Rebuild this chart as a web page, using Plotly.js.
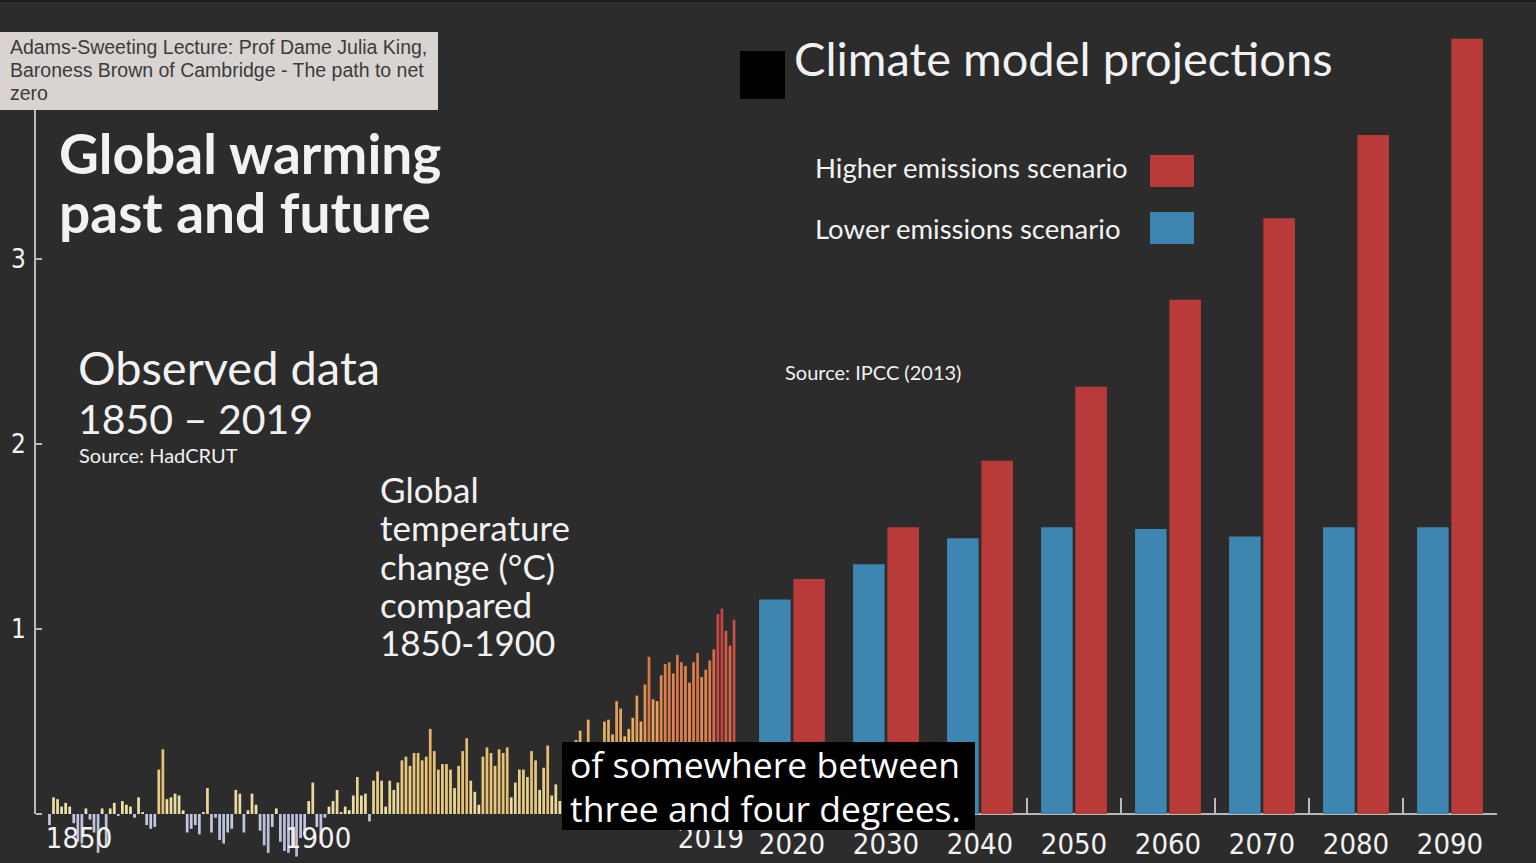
<!DOCTYPE html>
<html>
<head>
<meta charset="utf-8">
<script src="https://cdn.plot.ly/plotly-3.0.1.min.js"></script>
<style>
html,body{margin:0;padding:0;background:#2c2c2c;}
#chart{width:1536px;height:863px;}
</style>
</head>
<body>
<div id="chart"></div>
<script>
// ---------------- DATA ----------------
const firstObservedYear = 1850;
// Global temperature change (°C) compared with 1850-1900, HadCRUT, 1850-2019
const observedAnomaly = [
 -0.06, 0.09, 0.08, 0.04, 0.06, 0.04,-0.05,-0.15,-0.16, 0.03,
 -0.03,-0.10,-0.21, 0.03,-0.18, 0.03, 0.06,-0.01, 0.07, 0.05,
  0.04,-0.02, 0.09, 0.01,-0.06,-0.08,-0.07, 0.24, 0.35, 0.08,
  0.09, 0.11, 0.10, 0.02,-0.10,-0.08,-0.06,-0.11, 0.01, 0.14,
 -0.10,-0.02,-0.14,-0.16,-0.10,-0.08, 0.13, 0.11,-0.10, 0.02,
  0.11, 0.05,-0.09,-0.17,-0.21,-0.07, 0.03,-0.15,-0.20,-0.21,
 -0.18,-0.23,-0.13,-0.11, 0.07, 0.17,-0.07,-0.16,-0.02, 0.04,
  0.07, 0.13, 0.01, 0.04, 0.02, 0.10, 0.20, 0.10, 0.11,-0.04,
  0.18, 0.23, 0.18, 0.04, 0.18, 0.13, 0.17, 0.29, 0.31, 0.26,
  0.33, 0.33, 0.29, 0.31, 0.46, 0.34, 0.24, 0.27, 0.27, 0.24,
  0.14, 0.26, 0.34, 0.41, 0.18, 0.12, 0.05, 0.31, 0.36, 0.33,
  0.26, 0.35, 0.33, 0.36, 0.09, 0.17, 0.24, 0.24, 0.20, 0.34,
  0.29, 0.13, 0.25, 0.37, 0.10, 0.16, 0.07, 0.36, 0.25, 0.37,
  0.40, 0.45, 0.32, 0.51, 0.30, 0.28, 0.36, 0.50, 0.51, 0.43,
  0.61, 0.57, 0.42, 0.46, 0.52, 0.64, 0.50, 0.70, 0.85, 0.62,
  0.61, 0.75, 0.81, 0.82, 0.76, 0.86, 0.82, 0.80, 0.71, 0.82,
  0.87, 0.74, 0.78, 0.83, 0.89, 1.08, 1.11, 0.99, 0.91, 1.05
];
const observedYears = observedAnomaly.map((v, i) => firstObservedYear + i);
const observedTickLabels = ['1850', '1900', '2019'];

const projectionDecades = ['2020', '2030', '2040', '2050', '2060', '2070', '2080', '2090'];
const lowerEmissions  = [1.16, 1.35, 1.49, 1.55, 1.54, 1.50, 1.55, 1.55];
const higherEmissions = [1.27, 1.55, 1.91, 2.31, 2.78, 3.22, 3.67, 4.19];
const yTickValues = [0, 1, 2, 3];
const yTickLabels = ['', '1', '2', '3'];

// ---------------- LAYOUT HELPERS ----------------
const W = 1536, H = 863, ML = 35, MR = 39, MT = 33, MB = 0;
const BASE = 814;                 // pixel row of the zero line
const PXU = 185;                  // pixels per °C
const PW = W - ML - MR, PH = H - MT - MB;
const px = x => (x - ML) / PW;
const py = y => (H - MB - y) / PH;
const yMin = -(H - MB - BASE) / PXU, yMax = (BASE - MT) / PXU;

const RED = '#b93b39', BLUE = '#3d86b2', BG = '#2c2c2c', WHITE = '#f2f2f2', AXIS = '#b8b8b8';
const NARROW = '"DejaVu Sans Condensed", Roboto, sans-serif';
const GEO = 'Lato, "Noto Sans", sans-serif';

const obsColorscale = [
  [0.0, '#a9afd6'], [0.2806, '#c9cce2'],
  [0.28125, '#f1e7b6'], [0.46875, '#e6c878'], [0.625, '#e8a85c'],
  [0.78125, '#e0804a'], [0.90625, '#d05a44'], [1.0, '#c43c3c']
];

const traces = [
  {
    type: 'bar', x: observedYears, y: observedAnomaly, xaxis: 'x', yaxis: 'y',
    marker: { color: observedAnomaly, colorscale: obsColorscale, cmin: -0.45, cmax: 1.15, line: { width: 0 } },
    showlegend: false, hoverinfo: 'x+y'
  },
  {
    type: 'bar', name: 'Lower emissions scenario', x: projectionDecades, y: lowerEmissions,
    xaxis: 'x2', yaxis: 'y', marker: { color: BLUE }, showlegend: false
  },
  {
    type: 'bar', name: 'Higher emissions scenario', x: projectionDecades, y: higherEmissions,
    xaxis: 'x2', yaxis: 'y', marker: { color: RED }, showlegend: false
  }
];

function label(text, x, y, size, opts) {
  opts = opts || {};
  return Object.assign({
    text: text, xref: 'paper', yref: 'paper', x: px(x), y: py(y),
    xanchor: 'left', yanchor: 'middle', showarrow: false, borderpad: 0,
    font: { family: opts.family || GEO, size: size, color: opts.color || WHITE, weight: opts.weight || 400 }
  }, opts.extra || {});
}

const TIP = { family: '"Liberation Sans", Arial, sans-serif', color: '#3b3b3b' };
const SUB = { family: '"Open Sans", "Noto Sans", sans-serif', color: '#ffffff' };

const annotations = [
  label('Adams-Sweeting Lecture: Prof Dame Julia King,', 9, 47, 19.5, TIP),
  label('Baroness Brown of Cambridge - The path to net', 9, 70, 19.5, TIP),
  label('zero', 9, 93, 19.5, TIP),
  label('Global warming', 58, 153, 55, { weight: 700 }),
  label('past and future', 58, 212, 55, { weight: 700 }),
  label('Climate model projections', 793, 58, 47),
  label('Higher emissions scenario', 814, 167, 27.5),
  label('Lower emissions scenario', 814, 228, 27.5),
  label('Source: IPCC (2013)', 784, 372, 20),
  label('Observed data', 77, 367, 47),
  label('1850 \u2013 2019', 77, 418, 41),
  label('Source: HadCRUT', 78, 455, 20),
  label('Global', 379, 489, 35),
  label('temperature', 379, 527, 35),
  label('change (\u00B0C)', 379, 566, 35),
  label('compared', 379, 604, 35),
  label('1850-1900', 379, 642, 35),
  label('of somewhere between', 569, 764, 35.5, SUB),
  label('three and four degrees.', 569, 808, 35.5, SUB)
];

function rect(x0, y0, x1, y1, color) {
  return { type: 'rect', xref: 'paper', yref: 'paper', x0: px(x0), x1: px(x1), y0: py(y1), y1: py(y0),
           fillcolor: color, line: { width: 0 }, layer: 'above' };
}

const shapes = [
  // y axis line, from zero upward
  { type: 'line', xref: 'paper', yref: 'y', x0: 0, x1: 0, y0: 0, y1: yMax, line: { color: AXIS, width: 2 }, layer: 'above' },
  rect(0, 0, W, 2, '#1c1c1c'),
  rect(0, 32, 438, 110, '#d9d4d2'),
  rect(740, 51, 785, 99, '#000000'),
  rect(1150, 155, 1194, 187, RED),
  rect(1150, 212, 1194, 244, BLUE),
  rect(562, 742, 975, 830, '#000000')
];

const tickFont = { family: NARROW, size: 29, color: WHITE, stretch: 'condensed' };

const layout = {
  width: W, height: H,
  paper_bgcolor: BG, plot_bgcolor: BG,
  margin: { l: ML, r: MR, t: MT, b: MB, pad: 0 },
  barmode: 'group', bargap: 0.27, bargroupgap: 0.08,
  showlegend: false,
  xaxis: {
    domain: [px(45), px(745)], range: [1848.9, 2021.7], anchor: 'free', position: py(BASE),
    showgrid: false, zeroline: false, showline: false, ticks: '', ticklabelstandoff: 4,
    tickmode: 'array', tickvals: [1857.3, 1916.3, 2013.3], ticktext: observedTickLabels,
    tickfont: tickFont
  },
  xaxis2: {
    domain: [px(745), 1], anchor: 'free', position: py(BASE), type: 'category',
    showgrid: false, zeroline: false, showline: true, linecolor: AXIS, linewidth: 2,
    ticks: 'inside', ticklen: 15, tickwidth: 2, tickcolor: AXIS, tickson: 'boundaries',
    ticklabelstandoff: 4, layer: 'below traces',
    tickfont: tickFont
  },
  yaxis: {
    range: [yMin, yMax], anchor: 'free', position: 0,
    showgrid: false, zeroline: false, showline: false,
    ticks: 'inside', ticklen: 6, tickwidth: 2, tickcolor: AXIS, ticklabelstandoff: 9,
    tickmode: 'array', tickvals: yTickValues, ticktext: yTickLabels,
    tickfont: { family: NARROW, size: 26, color: WHITE, stretch: 'condensed' }
  },
  annotations: annotations,
  shapes: shapes
};

Plotly.newPlot('chart', traces, layout, { displayModeBar: false, staticPlot: true });
</script>
</body>
</html>
